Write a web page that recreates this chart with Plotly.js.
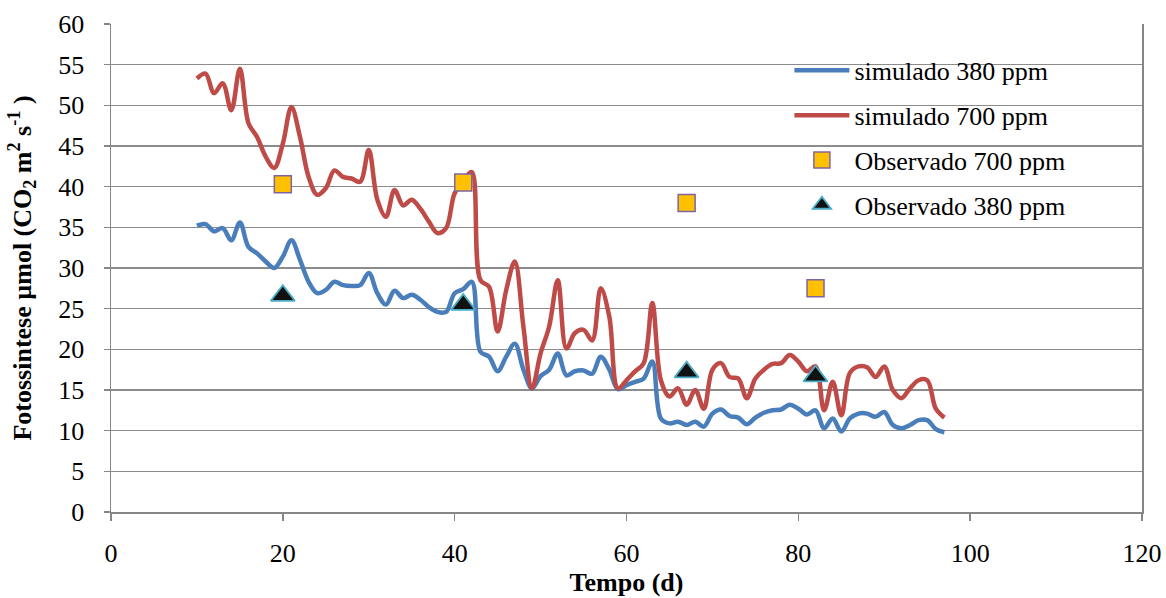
<!DOCTYPE html>
<html>
<head>
<meta charset="utf-8">
<script src="https://cdn.plot.ly/plotly-3.0.1.min.js"></script>
<style>html,body{margin:0;padding:0;background:#fff;}#chart{width:1166px;height:598px;}</style>
</head>
<body>
<div id="chart"></div>
<script>
var days = [10,11,12,13,14,15,16,17,18,19,20,21,22,23,24,25,26,27,28,29,30,31,32,33,34,35,36,37,38,39,40,41,42,43,44,45,46,47,48,49,50,51,52,53,54,55,56,57,58,59,60,61,62,63,64,65,66,67,68,69,70,71,72,73,74,75,76,77,78,79,80,81,82,83,84,85,86,87,88,89,90,91,92,93,94,95,96,97];
var sim380 = [35.2,35.4,34.5,34.9,33.4,35.6,32.6,31.8,30.8,30.0,31.4,33.4,31.0,28.3,26.9,27.3,28.3,27.9,27.8,27.9,29.4,26.9,25.5,27.2,26.3,26.7,26.1,25.2,24.6,24.6,26.9,27.4,28.3,19.7,19.1,17.3,19.1,20.7,17.5,15.2,16.7,17.5,19.5,16.8,17.3,17.4,17.0,19.1,17.5,15.1,15.6,16.0,16.4,18.5,11.5,10.9,11.1,10.7,11.1,10.5,12.1,12.6,11.8,11.6,10.8,11.6,12.2,12.5,12.6,13.2,12.7,12.0,12.5,10.3,11.5,9.9,11.5,12.1,12.1,11.7,12.3,10.7,10.3,10.7,11.3,11.3,10.2,9.8];
var sim700 = [53.3,53.9,51.5,52.7,49.4,54.5,47.8,46.1,43.7,42.3,45.3,49.8,46.1,41.2,39.0,39.8,42.0,41.2,41.0,40.6,44.5,38.4,36.3,39.6,37.7,38.4,37.3,35.7,34.3,34.9,39.2,40.6,41.8,28.5,27.7,22.2,27.3,30.8,22.8,15.2,19.5,22.8,28.5,20.1,22.0,22.4,21.1,27.5,24.0,15.2,16.2,17.3,18.3,25.7,16.2,14.2,15.2,13.2,15.0,12.7,17.5,18.3,16.6,16.4,14.0,16.4,17.5,18.2,18.3,19.3,18.5,17.3,17.9,12.5,16.0,11.9,17.1,17.9,17.8,16.6,17.9,15.0,14.0,15.2,16.2,16.2,12.7,11.6];
var obsDays = [20,41,67,82];
var obs700 = [40.3,40.5,38.0,27.5];
var obs380 = [26.6,25.5,17.2,16.7];
var seriesNames = ['simulado 380 ppm','simulado 700 ppm','Observado 700 ppm','Observado 380 ppm'];
var xTicks = [0,20,40,60,80,100,120];
var yTicks = [0,5,10,15,20,25,30,35,40,45,50,55,60];

var FONT = 'Liberation Serif, Times New Roman, serif';
var traces = [
  {x: days, y: sim380, name: seriesNames[0], mode: 'lines', type: 'scatter', legendgroup: 'a',
   line: {color: '#4A7EBB', width: 4.5, shape: 'spline', smoothing: 1}},
  {x: days, y: sim700, name: seriesNames[1], mode: 'lines', type: 'scatter', legendgroup: 'b',
   line: {color: '#BE4B48', width: 4.5, shape: 'spline', smoothing: 1}},
  {x: obsDays, y: obs700, name: seriesNames[2], mode: 'markers', type: 'scatter', legendgroup: 'c',
   marker: {symbol: 'square', size: 17, color: '#FFC000', line: {color: '#8064A2', width: 1.5}}},
  {x: obsDays, y: obs380, name: seriesNames[3], mode: 'markers', type: 'scatter', legendgroup: 'd',
   marker: {symbol: 'triangle-up', size: 21, color: '#111111', line: {color: '#4BACC6', width: 1.8}}}
];
var layout = {
  width: 1166, height: 598,
  margin: {l: 111, r: 24, t: 24, b: 86, pad: 0},
  paper_bgcolor: '#ffffff', plot_bgcolor: '#ffffff',
  font: {family: FONT, size: 26, color: '#000000'},
  showlegend: true,
  legend: {x: 0.658, y: 0.953, xanchor: 'left', yanchor: 'top', bgcolor: 'rgba(0,0,0,0)',
           font: {family: FONT, size: 26, color: '#000'}, itemwidth: 55,
           traceorder: 'grouped', tracegroupgap: 8},
  xaxis: {range: [0, 120], tickvals: xTicks, ticktext: xTicks.map(String),
          showgrid: false, zeroline: false, showline: true, linecolor: '#868686', linewidth: 1.5,
          ticks: 'outside', ticklen: 7, tickcolor: '#868686', tickwidth: 1.5,
          ticklabelstandoff: 10,
          tickfont: {family: FONT, size: 26, color: '#000'},
          title: {text: 'Tempo (d)', font: {family: FONT, size: 26, color: '#000', weight: 'bold'}, standoff: 2}},
  yaxis: {range: [0, 60], tickvals: yTicks, ticktext: yTicks.map(String),
          showgrid: true, gridcolor: '#8c8c8c', gridwidth: 1.3, zeroline: false,
          showline: true, linecolor: '#868686', linewidth: 1.5, mirror: true,
          ticks: 'outside', ticklen: 6, tickcolor: '#868686', tickwidth: 1.5,
          ticklabelstandoff: 14,
          tickfont: {family: FONT, size: 26, color: '#000'},
          title: {text: 'Fotossintese µmol (CO<sub>2</sub> m<sup>2</sup> s<sup>-1</sup> )',
                  font: {family: FONT, size: 26, color: '#000', weight: 'bold'}, standoff: 19}}
};
Plotly.newPlot('chart', traces, layout, {displayModeBar: false, staticPlot: true});
</script>
</body>
</html>
